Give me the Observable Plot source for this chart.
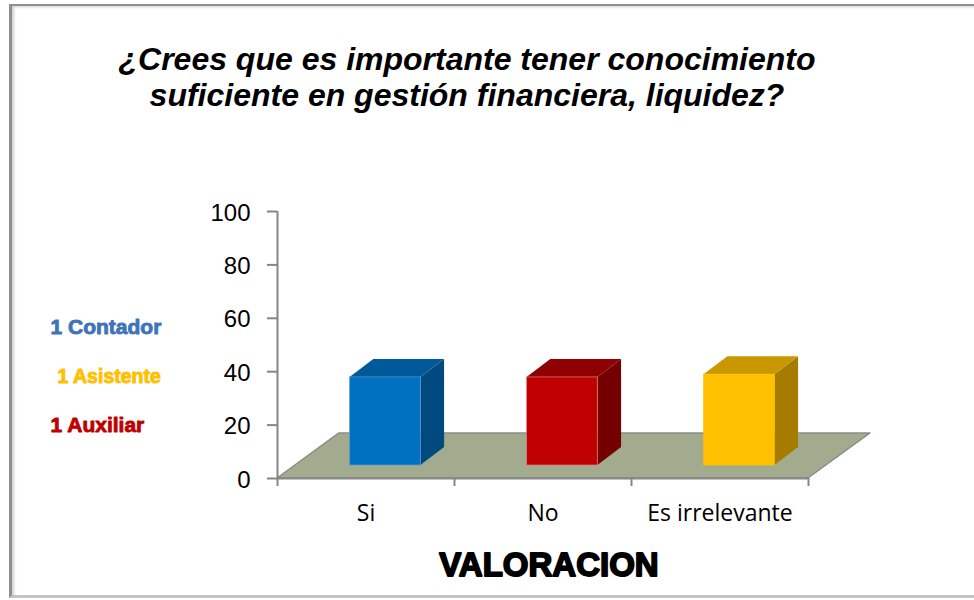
<!DOCTYPE html>
<html>
<head>
<meta charset="utf-8">
<script src="https://cdn.jsdelivr.net/npm/d3@7"></script>
<script src="https://cdn.jsdelivr.net/npm/@observablehq/plot@0.6"></script>
<style>
  html, body { margin: 0; padding: 0; background: #fff; overflow: hidden; }
  #page { position: relative; width: 974px; height: 600px; overflow: hidden; }
  #frame { position: absolute; left: 9px; top: 4px; width: 1000px; height: 594px; box-sizing: border-box;
           border-top: 2px solid #8f8f8f; border-left: 3px solid #8f8f8f; border-bottom: 3px solid #c4c4c4;
           box-shadow: inset 3px 2px 3px -1px #cfcfcf; pointer-events: none; }
  #title { position: relative; height: 130px; box-sizing: border-box; padding-top: 41px; width: 934px;
           text-align: center; font: italic bold 32px/36px "Liberation Sans", Arial, sans-serif; color: #000; }
  svg { display: block; }
</style>
</head>
<body>
<div id="page">
  <div id="frame"></div>
  <div id="title"></div>
  <div id="chart"></div>
</div>
<script>
const titleLines = ["¿Crees que es importante tener conocimiento", "suficiente en gestión financiera, liquidez?"];
const categories = ["Si", "No", "Es irrelevante"];
const values = [33, 33, 34];
const frontColors = ["#0070C0", "#C00000", "#FFC000"];
const topColors = ["#005A9A", "#8F0000", "#C99700"];
const sideColors = ["#004A80", "#750000", "#A67C00"];
const edgeColors = ["#5B9BD5", "#D98080", "#FFC000"];
const yTicks = [0, 20, 40, 60, 80, 100];
const notes = ["1 Contador", "1 Asistente", "1 Auxiliar"];
const noteLevels = [56.6, 38.2, 20];
const noteColors = ["#3F74BC", "#FFC000", "#C00000"];
const noteOffsets = [-227, -220, -227];
const noteSizes = [21, 19.5, 21];
const axisTitle = "VALORACION";

// oblique depth of the 3-D look, in data units
const floorDx = 0.35, floorDy = 16.9;
const barDx = 0.134, barDy = 6.74;
const barBase = 4.87, barStart = 0.41, barWidth = 0.4;

document.getElementById("title").innerHTML = titleLines.join("<br>");

const para = (y0, y1, l0, r0, l1, r1, options) =>
  Plot.areaX([{y: y0, a: l0, b: r0}, {y: y1, a: l1, b: r1}],
    {y: "y", x1: "a", x2: "b", curve: "linear", ...options});
const side = (x0, x1, lo0, hi0, lo1, hi1, options) =>
  Plot.areaY([{x: x0, a: lo0, b: hi0}, {x: x1, a: lo1, b: hi1}],
    {x: "x", y1: "a", y2: "b", curve: "linear", ...options});

const barMarks = categories.flatMap((c, i) => {
  const l = i + barStart, r = l + barWidth, top = barBase + values[i];
  return [
    side(r, r + barDx, barBase, top, barBase + barDy, top + barDy, {fill: sideColors[i]}),
    para(top, top + barDy, l, r, l + barDx, r + barDx, {fill: topColors[i]}),
    Plot.rect([values[i]], {x1: l, x2: r, y1: barBase, y2: top, fill: frontColors[i],
      stroke: edgeColors[i], strokeWidth: 1, strokeOpacity: 0.7})
  ];
});

const noteMarks = notes.map((n, i) =>
  Plot.text([n], {
    y: noteLevels[i], text: (d) => d, frameAnchor: "left", dx: noteOffsets[i], textAnchor: "start",
    fontSize: noteSizes[i], fontWeight: "bold", fontFamily: "Liberation Sans",
    fill: noteColors[i], stroke: noteColors[i], strokeWidth: 0.9
  })
);

const chart = Plot.plot({
  width: 974,
  height: 470,
  marginLeft: 277,
  marginRight: 166,
  marginTop: 81,
  marginBottom: 122,
  x: {type: "linear", domain: [0, 3]},
  y: {type: "linear", domain: [0, 100]},
  marks: [
    para(0, floorDy, 0, 3, floorDx, 3 + floorDx, {fill: "#A3AB8E", stroke: "#8c8c8c", strokeWidth: 1.5}),
    Plot.ruleX([0], {stroke: "#868686", strokeWidth: 2}),
    Plot.ruleY([0], {stroke: "#868686", strokeWidth: 2}),
    Plot.axisY({ticks: yTicks, tickSize: 10, stroke: "#868686", strokeWidth: 2, tickFormat: () => "", label: null}),
    Plot.axisY({ticks: yTicks, tickSize: 0, tickPadding: 27, dy: 1.5,
      label: null, fontSize: 24, fontFamily: "Liberation Sans", fill: "#000"}),
    Plot.axisX({ticks: [0, 1, 2, 3], tickSize: 8, stroke: "#868686", strokeWidth: 2,
      tickFormat: () => "", label: null}),
    Plot.axisX({ticks: categories.map((c, i) => i + 0.5), tickSize: 0, tickPadding: 26,
      tickFormat: (d) => categories[Math.floor(d)], label: null,
      fontSize: 23, fontFamily: "Open Sans", fill: "#000"}),
    ...barMarks,
    ...noteMarks,
    Plot.text([axisTitle], {
      frameAnchor: "bottom", dy: 87, dx: 6, text: (d) => d,
      fontSize: 33, fontWeight: "bold", fontFamily: "Liberation Sans", fill: "#000",
      stroke: "#000", strokeWidth: 1.8, lineAnchor: "middle"
    })
  ]
});
document.getElementById("chart").appendChild(chart);
</script>
</body>
</html>
